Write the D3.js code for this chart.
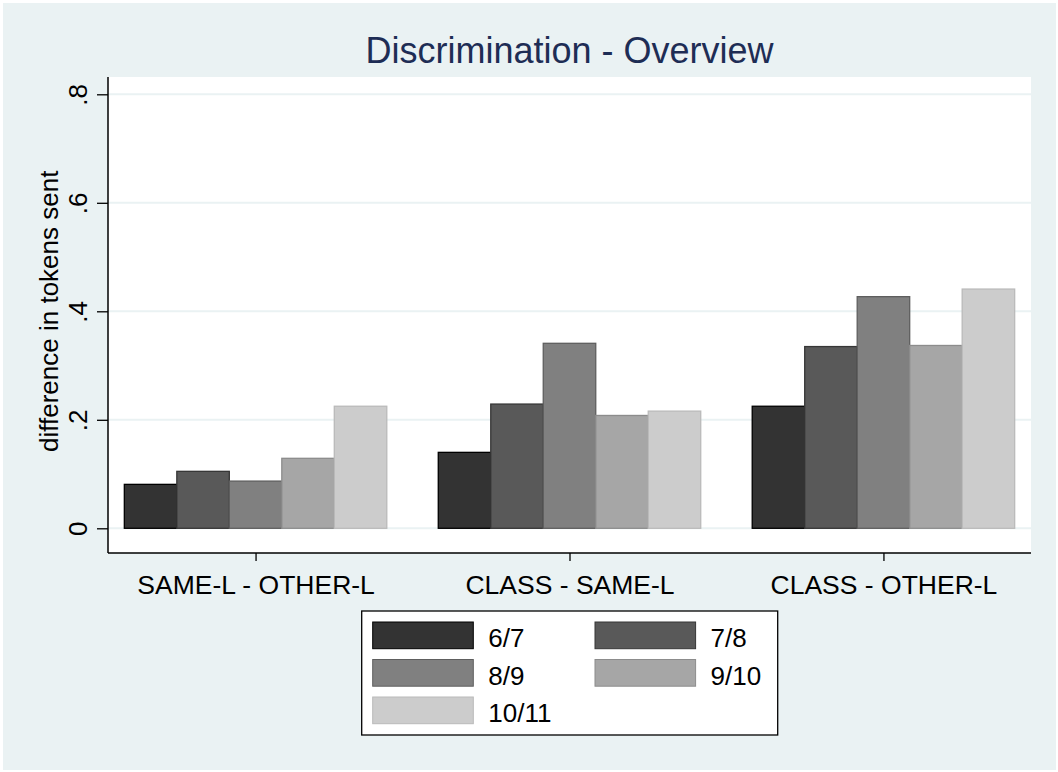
<!DOCTYPE html>
<html>
<head>
<meta charset="utf-8">
<script src="https://cdn.jsdelivr.net/npm/d3@7"></script>
<style>
	body { margin: 0; background: #ffffff; }
	text { font-family: "Liberation Sans", Arial, Helvetica, sans-serif; }
</style>
</head>
<body>
<div id="main_node"></div>
<script>
let width = 1058;
let height = 772;
let plot = { top: 77, right: 1031, bottom: 553, left: 108 };

// the three comparisons on the x axis
var categories = ["SAME-L - OTHER-L", "CLASS - SAME-L", "CLASS - OTHER-L"];
// grade pairs (legend / series)
var series = ["6/7", "7/8", "8/9", "9/10", "10/11"];
// difference in tokens sent, one array per comparison, in series order
var sameVsOther = [0.081, 0.105, 0.087, 0.129, 0.225];
var classVsSame = [0.140, 0.229, 0.341, 0.208, 0.216];
var classVsOther = [0.225, 0.335, 0.427, 0.337, 0.441];
var yTicks = [0, 0.2, 0.4, 0.6, 0.8];
var yTickLabels = ["0", ".2", ".4", ".6", ".8"];

var fills = ["#333333", "#595959", "#808080", "#a6a6a6", "#cccccc"];
var strokes = ["#000000", "#363636", "#5e5e5e", "#8c8c8c", "#bababa"];

var values = [sameVsOther, classVsSame, classVsOther];

var svg = d3
	.select("#main_node")
	.append("svg")
	.attr("width", width)
	.attr("height", height);

// outer graph region
svg.append("rect")
	.attr("x", 3)
	.attr("y", 3)
	.attr("width", width - 5)
	.attr("height", height - 5)
	.attr("fill", "#eaf2f3");

// plot region
svg.append("rect")
	.attr("x", plot.left)
	.attr("y", plot.top)
	.attr("width", plot.right - plot.left)
	.attr("height", plot.bottom - plot.top)
	.attr("fill", "#ffffff");

var y = d3.scaleLinear().domain([0, 0.8]).range([528.3, 94.3]);

var x = d3
	.scalePoint()
	.domain(categories)
	.range([plot.left, plot.right])
	.padding(0.47);

var groupWidth = x.step() * 0.836;
var xInner = d3
	.scaleBand()
	.domain(series)
	.range([-groupWidth / 2, groupWidth / 2]);

// grid lines
svg.selectAll("line.grid")
	.data(yTicks)
	.enter()
	.append("line")
	.attr("class", "grid")
	.attr("x1", plot.left)
	.attr("x2", plot.right)
	.attr("y1", function (d) {
		return y(d);
	})
	.attr("y2", function (d) {
		return y(d);
	})
	.attr("stroke", "#eaf2f3")
	.attr("stroke-width", 2);

// bars
var rows = [];
values.forEach(function (arr, ci) {
	arr.forEach(function (v, si) {
		rows.push({ cat: categories[ci], s: series[si], si: si, value: v });
	});
});

svg.selectAll("rect.bar")
	.data(rows)
	.enter()
	.append("rect")
	.attr("class", "bar")
	.attr("x", function (d) {
		return x(d.cat) + xInner(d.s);
	})
	.attr("y", function (d) {
		return y(d.value);
	})
	.attr("width", xInner.bandwidth())
	.attr("height", function (d) {
		return y(0) - y(d.value);
	})
	.attr("fill", function (d) {
		return fills[d.si];
	})
	.attr("stroke", function (d) {
		return strokes[d.si];
	})
	.attr("stroke-width", 1.3);

// y axis
var yAxis = svg
	.append("g")
	.attr("transform", "translate(" + plot.left + ",0)")
	.call(
		d3
			.axisLeft(y)
			.tickValues(yTicks)
			.tickSize(11)
			.tickFormat(function (d, i) {
				return yTickLabels[i];
			})
	);
yAxis.select(".domain").remove();
yAxis.selectAll(".tick line").attr("stroke", "#000").attr("stroke-width", 1.3);
yAxis
	.selectAll(".tick text")
	.attr("x", null)
	.attr("dy", null)
	.attr("transform", "translate(-21,0) rotate(-90)")
	.attr("text-anchor", "middle")
	.attr("font-size", 26)
	.attr("fill", "#000");
svg.append("line")
	.attr("x1", plot.left)
	.attr("x2", plot.left)
	.attr("y1", plot.top)
	.attr("y2", plot.bottom)
	.attr("stroke", "#000")
	.attr("stroke-width", 1.5);

// x axis
var xAxis = svg
	.append("g")
	.attr("transform", "translate(0," + plot.bottom + ")")
	.call(d3.axisBottom(x).tickSize(8).tickSizeOuter(0));
xAxis.select(".domain").remove();
xAxis.selectAll(".tick line").attr("stroke", "#000").attr("stroke-width", 1.3);
xAxis
	.selectAll(".tick text")
	.attr("y", 41)
	.attr("dy", null)
	.attr("font-size", 26.5)
	.attr("fill", "#000");
svg.append("line")
	.attr("x1", plot.left)
	.attr("x2", plot.right)
	.attr("y1", plot.bottom)
	.attr("y2", plot.bottom)
	.attr("stroke", "#000")
	.attr("stroke-width", 1.5);

// y axis title
svg.append("text")
	.attr("transform", "translate(58," + (y(0) + y(0.8)) / 2 + ") rotate(-90)")
	.attr("text-anchor", "middle")
	.attr("font-size", 26)
	.attr("fill", "#000")
	.text("difference in tokens sent");

// title
svg.append("text")
	.attr("x", (plot.left + plot.right) / 2)
	.attr("y", 63)
	.attr("text-anchor", "middle")
	.attr("font-size", 36)
	.attr("fill", "#1e2d55")
	.text("Discrimination - Overview");

// legend
var legend = svg.append("g").attr("transform", "translate(361.7,611)");
legend
	.append("rect")
	.attr("width", 416)
	.attr("height", 124)
	.attr("fill", "#ffffff")
	.attr("stroke", "#000")
	.attr("stroke-width", 1.3);

var items = legend
	.selectAll("g.item")
	.data(series)
	.enter()
	.append("g")
	.attr("class", "item")
	.attr("transform", function (d, i) {
		var col = i % 2;
		var row = Math.floor(i / 2);
		return "translate(" + (11 + col * 222.3) + "," + (11 + row * 37.5) + ")";
	});

items
	.append("rect")
	.attr("width", 100.6)
	.attr("height", 26.7)
	.attr("fill", function (d, i) {
		return fills[i];
	})
	.attr("stroke", function (d, i) {
		return strokes[i];
	})
	.attr("stroke-width", 1);

items
	.append("text")
	.attr("x", 115.6)
	.attr("y", 25)
	.attr("font-size", 26)
	.attr("fill", "#000")
	.text(function (d) {
		return d;
	});
</script>
</body>
</html>
